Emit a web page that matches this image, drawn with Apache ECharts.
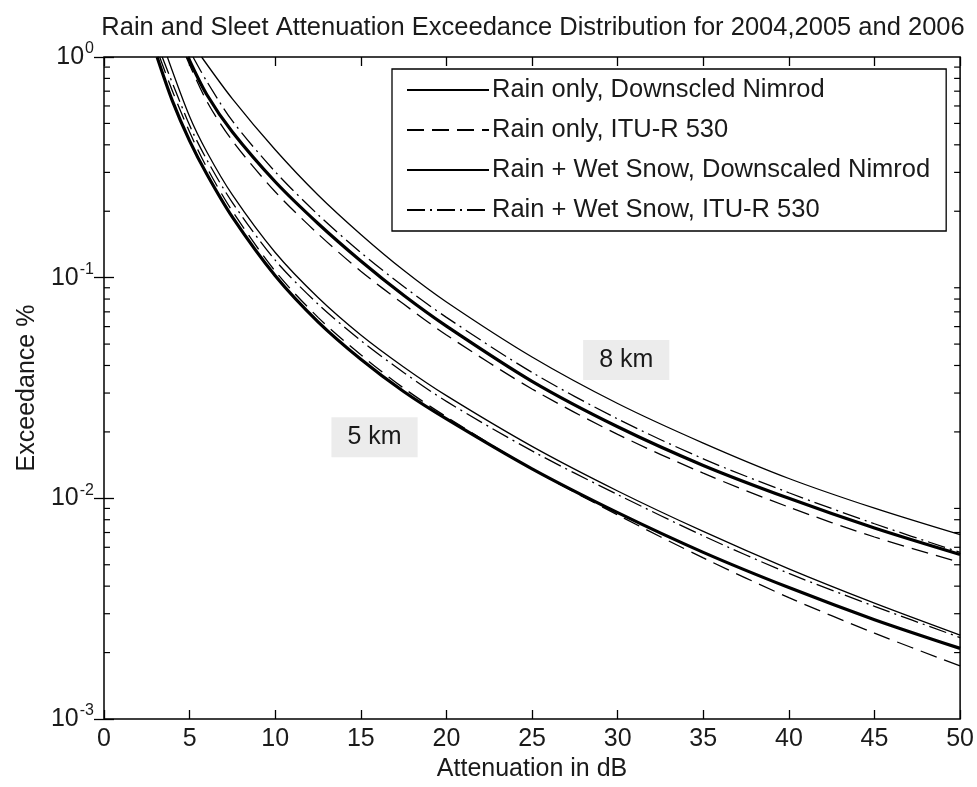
<!DOCTYPE html>
<html>
<head>
<meta charset="utf-8">
<script src="https://cdn.jsdelivr.net/npm/echarts@6/dist/echarts.min.js"></script>
<style>
  html, body { margin: 0; padding: 0; background: #fff; }
  #chart { width: 977px; height: 787px; }
</style>
</head>
<body>
<div id="chart"></div>
<script>
// Attenuation (dB) and exceedance (%) for each curve.
// 5 km path
const rainNimrod5_x   = [3.1, 4, 5, 6, 7.5, 10, 12.5, 15, 17.5, 20, 25, 30, 35, 40, 45, 50];
const rainNimrod5_p   = [1, 0.631, 0.417, 0.295, 0.188, 0.102, 0.0631, 0.0427, 0.0305, 0.0229, 0.0136, 0.00861, 0.00569, 0.00394, 0.00282, 0.00209];
const rainItu5_x      = [3.25, 4, 5, 6, 7.5, 10, 12.5, 15, 17.5, 20, 25, 30, 35, 40, 45, 50];
const rainItu5_p      = [1, 0.700, 0.457, 0.316, 0.200, 0.107, 0.0661, 0.0447, 0.0316, 0.0234, 0.0136, 0.00841, 0.00537, 0.00355, 0.00245, 0.00174];
const snowNimrod5_x   = [3.7, 5, 6, 7.5, 10, 12.5, 15, 17.5, 20, 25, 30, 35, 40, 45, 50];
const snowNimrod5_p   = [1, 0.537, 0.372, 0.237, 0.130, 0.0813, 0.0550, 0.0394, 0.0292, 0.0172, 0.0108, 0.00708, 0.00479, 0.00335, 0.00240];
const snowItu5_x      = [3.4, 5, 6, 7.5, 10, 12.5, 15, 17.5, 20, 25, 30, 35, 40, 45, 50];
const snowItu5_p      = [1, 0.490, 0.343, 0.219, 0.120, 0.0759, 0.0519, 0.0372, 0.0275, 0.0164, 0.0104, 0.00676, 0.00457, 0.00324, 0.00234];
// 8 km path
const rainNimrod8_x   = [4.9, 6, 7.5, 10, 12.5, 15, 17.5, 20, 25, 30, 35, 40, 45, 50];
const rainNimrod8_p   = [1, 0.676, 0.457, 0.272, 0.176, 0.119, 0.0832, 0.0603, 0.0339, 0.0211, 0.0141, 0.0100, 0.00733, 0.00556];
const rainItu8_x      = [4.8, 6, 7.5, 10, 12.5, 15, 17.5, 20, 25, 30, 35, 40, 45, 50];
const rainItu8_p      = [1, 0.631, 0.417, 0.245, 0.158, 0.107, 0.0759, 0.0550, 0.0313, 0.0195, 0.0130, 0.00912, 0.00668, 0.00513];
const snowNimrod8_x   = [5.7, 7.5, 10, 12.5, 15, 17.5, 20, 25, 30, 35, 40, 45, 50];
const snowNimrod8_p   = [1, 0.646, 0.380, 0.237, 0.157, 0.108, 0.0776, 0.0437, 0.0269, 0.0178, 0.0123, 0.00902, 0.00684];
const snowItu8_x      = [5.2, 6, 7.5, 10, 12.5, 15, 17.5, 20, 25, 30, 35, 40, 45, 50];
const snowItu8_p      = [1, 0.776, 0.513, 0.302, 0.193, 0.130, 0.0912, 0.0661, 0.0372, 0.0229, 0.0151, 0.0106, 0.00767, 0.00569];

const legendNames = [
  'Rain only, Downscled Nimrod',
  'Rain only, ITU-R 530',
  'Rain + Wet Snow, Downscaled Nimrod',
  'Rain + Wet Snow, ITU-R 530'
];
const xTicks = [0, 5, 10, 15, 20, 25, 30, 35, 40, 45, 50];
const yMinorTicks = [0.002, 0.003, 0.004, 0.005, 0.006, 0.007, 0.008, 0.009,
                     0.02, 0.03, 0.04, 0.05, 0.06, 0.07, 0.08, 0.09,
                     0.2, 0.3, 0.4, 0.5, 0.6, 0.7, 0.8, 0.9];
const pathLabels = [
  { text: '8 km', x: 30.5, p: 0.0423 },
  { text: '5 km', x: 15.8, p: 0.0189 }
];

const FONT = "'Liberation Sans', Arial, sans-serif";
const INK = '#1a1a1a';

function pairs(xs, ps) { return xs.map((x, i) => [x, ps[i]]); }

const styles = [
  { width: 3.2, type: 'solid' },
  { width: 1.3, type: [17, 8] },
  { width: 1.3, type: 'solid' },
  { width: 1.3, type: [18, 5, 2, 5] }
];

function curve(nameIdx, xs, ps) {
  const st = styles[nameIdx];
  return {
    name: legendNames[nameIdx],
    type: 'line',
    data: pairs(xs, ps),
    showSymbol: false,
    symbol: 'none',
    smooth: 0.3,
    lineStyle: { color: '#000', width: st.width, type: st.type },
    itemStyle: { color: '#000' },
    z: 3
  };
}

const series = [
  curve(0, rainNimrod5_x, rainNimrod5_p),
  curve(1, rainItu5_x, rainItu5_p),
  curve(2, snowNimrod5_x, snowNimrod5_p),
  curve(3, snowItu5_x, snowItu5_p),
  curve(0, rainNimrod8_x, rainNimrod8_p),
  curve(1, rainItu8_x, rainItu8_p),
  curve(2, snowNimrod8_x, snowNimrod8_p),
  curve(3, snowItu8_x, snowItu8_p)
];

// path length annotations in grey boxes
series[0].markPoint = {
  symbol: 'rect',
  symbolSize: 1,
  silent: true,
  itemStyle: { color: 'rgba(0,0,0,0)' },
  label: {
    show: true,
    position: 'inside',
    formatter: p => p.name,
    fontFamily: FONT,
    fontSize: 25,
    color: INK,
    backgroundColor: '#ececec',
    padding: [8, 16, 7, 16]
  },
  data: pathLabels.map(l => ({ name: l.text, coord: [l.x, l.p] }))
};

// log-decade minor ticks on the left and right frame
series.push({
  type: 'custom',
  silent: true,
  clip: false,
  data: yMinorTicks.map(v => [0, v]),
  renderItem: function (params, api) {
    const v = api.value(1);
    const a = api.coord([0, v]);
    const b = api.coord([50, v]);
    const len = 6;
    const s = { stroke: '#000', lineWidth: 1.2 };
    return {
      type: 'group',
      children: [
        { type: 'line', shape: { x1: a[0], y1: a[1], x2: a[0] + len, y2: a[1] }, style: s },
        { type: 'line', shape: { x1: b[0] - len, y1: b[1], x2: b[0], y2: b[1] }, style: s }
      ]
    };
  },
  z: 4
});

const yLabelFmt = v => {
  const e = Math.round(Math.log10(v));
  return '{b|10}{s|' + (e === 0 ? '0' : '-' + Math.abs(e)) + '}';
};

const xBase = {
  type: 'value', min: 0, max: 50, interval: 5,
  axisLine: { show: false },
  axisTick: { show: true, inside: true, length: 9, lineStyle: { color: '#000', width: 1.3 } },
  splitLine: { show: false }
};
const yBase = {
  type: 'log', logBase: 10, min: 0.001, max: 1,
  axisLine: { show: false },
  axisTick: { show: true, inside: true, length: 10, lineStyle: { color: '#000', width: 1.3 } },
  splitLine: { show: false },
  minorTick: { show: false }
};

const option = {
  backgroundColor: '#fff',
  animation: false,
  title: {
    text: 'Rain and Sleet Attenuation Exceedance Distribution for 2004,2005 and 2006',
    left: 528,
    textAlign: 'center',
    top: 10,
    textStyle: { fontFamily: FONT, fontSize: 25.5, fontWeight: 'normal', color: INK }
  },
  grid: {
    left: 104, right: 14, top: 57, bottom: 67,
    show: true, borderColor: '#000', borderWidth: 1.5, backgroundColor: '#fff'
  },
  legend: {
    data: legendNames,
    orient: 'vertical',
    left: 392,
    top: 69,
    itemWidth: 82,
    itemHeight: 14,
    itemGap: 14,
    padding: [8, 16, 8, 14],
    borderColor: '#000',
    borderWidth: 1.3,
    backgroundColor: '#fff',
    selectedMode: false,
    itemStyle: { opacity: 0 },
    textStyle: { fontFamily: FONT, fontSize: 25.5, color: INK, padding: [0, 0, 0, -2] }
  },
  xAxis: [
    Object.assign({}, xBase, {
      position: 'bottom',
      name: 'Attenuation in dB',
      nameLocation: 'middle',
      nameGap: 38,
      nameTextStyle: { fontFamily: FONT, fontSize: 25, color: INK },
      axisLabel: {
        fontFamily: FONT, fontSize: 25, color: INK, margin: 8,
        formatter: v => (xTicks.indexOf(v) >= 0 ? String(v) : '')
      }
    }),
    Object.assign({}, xBase, { position: 'top', axisLabel: { show: false } })
  ],
  yAxis: [
    Object.assign({}, yBase, {
      position: 'left',
      name: 'Exceedance %',
      nameLocation: 'middle',
      nameGap: 62,
      nameRotate: 90,
      nameTextStyle: { fontFamily: FONT, fontSize: 25, color: INK },
      axisLabel: {
        formatter: yLabelFmt,
        margin: 10,
        rich: {
          b: { fontFamily: FONT, fontSize: 25, color: INK },
          s: { fontFamily: FONT, fontSize: 16, color: INK, padding: [0, 0, 16, 1] }
        }
      }
    }),
    Object.assign({}, yBase, { position: 'right', axisLabel: { show: false } })
  ],
  series: series
};

const chart = echarts.init(document.getElementById('chart'), null, { renderer: 'canvas' });
chart.setOption(option);
</script>
</body>
</html>
